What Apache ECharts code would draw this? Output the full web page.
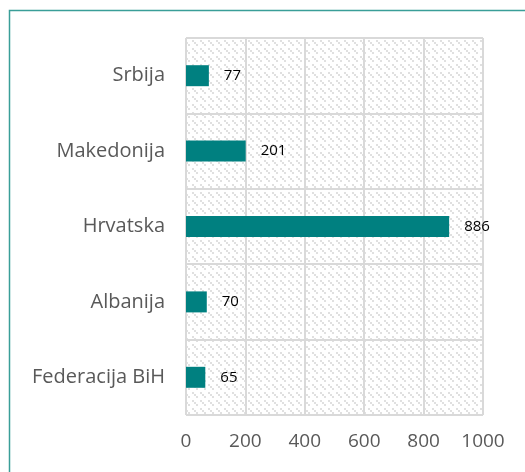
<!DOCTYPE html>
<html>
<head>
<meta charset="utf-8">
<script src="https://cdn.jsdelivr.net/npm/echarts@6/dist/echarts.min.js"></script>
<style>
  html, body { margin: 0; padding: 0; background: #fff; }
  #main { width: 525px; height: 472px; }
</style>
</head>
<body>
<div id="main"></div>
<script>
var categories = ['Federacija BiH', 'Albanija', 'Hrvatska', 'Makedonija', 'Srbija'];
var values = [65, 70, 886, 201, 77];
var xTicks = [0, 200, 400, 600, 800, 1000];

// dashed diagonal hatch for the plot background
var pat = document.createElement('canvas');
pat.width = 8; pat.height = 8;
var pctx = pat.getContext('2d');
pctx.fillStyle = '#ffffff';
pctx.fillRect(0, 0, 8, 8);
pctx.fillStyle = '#e0e0e0';
pctx.fillRect(0, 0, 2, 2);
pctx.fillRect(2, 2, 2, 2);
pctx.fillRect(4, 4, 2, 2);

var chart = echarts.init(document.getElementById('main'));
var option = {
  backgroundColor: '#fff',
  textStyle: { fontFamily: 'Open Sans' },
  graphic: [{
    type: 'rect',
    shape: { x: 9.5, y: 10.5, width: 530, height: 480 },
    style: { fill: 'none', stroke: '#3a9e98', lineWidth: 1.5 },
    silent: true
  }],
  grid: {
    left: 186, right: 42, top: 38, bottom: 57,
    show: true,
    backgroundColor: { image: pat, repeat: 'repeat' },
    borderWidth: 0
  },
  xAxis: {
    type: 'value',
    min: 0, max: 1000, interval: 200,
    axisLine: { show: false },
    axisTick: { show: false },
    splitLine: { show: true, lineStyle: { color: '#d9d9d9', width: 2 } },
    axisLabel: {
      color: '#595959', fontSize: 19, margin: 17,
      formatter: function (v) { return xTicks.indexOf(v) >= 0 ? String(v) : ''; }
    }
  },
  yAxis: {
    type: 'category',
    data: categories,
    axisLine: { show: false },
    axisTick: { show: false },
    splitLine: { show: true, lineStyle: { color: '#d9d9d9', width: 2 } },
    axisLabel: { color: '#595959', fontSize: 20, margin: 21 }
  },
  series: [{
    type: 'bar',
    data: values,
    barWidth: 21,
    itemStyle: { color: '#008080' },
    label: {
      show: true, position: 'right', distance: 15,
      color: '#000', fontSize: 15
    }
  }]
};
chart.setOption(option);
</script>
</body>
</html>
